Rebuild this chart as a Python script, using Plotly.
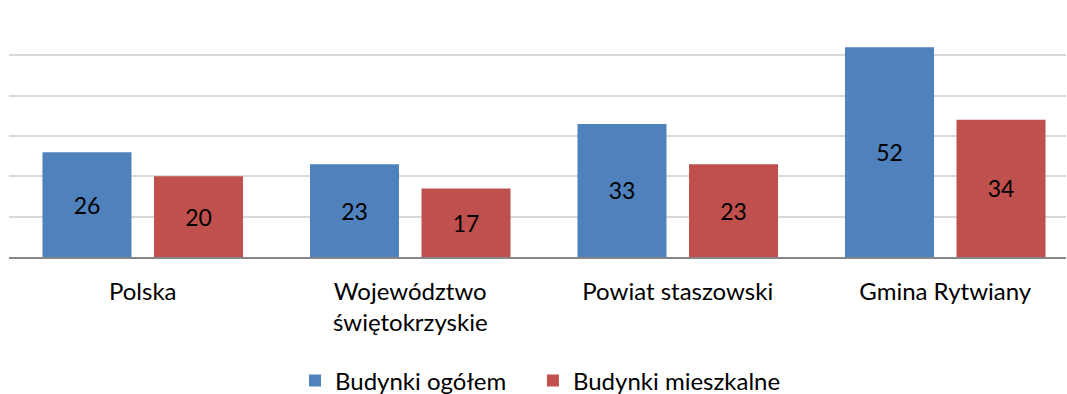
import plotly.graph_objects as go

categories = ["Polska", "Województwo<br>świętokrzyskie", "Powiat staszowski", "Gmina Rytwiany"]
budynki_ogolem = [26, 23, 33, 52]
budynki_mieszkalne = [20, 17, 23, 34]

FONT = "Lato, 'Open Sans', sans-serif"

fig = go.Figure()
fig.add_trace(go.Bar(
    x=categories, y=budynki_ogolem, name="Budynki ogółem",
    marker=dict(color="#4F81BD", line=dict(width=0)),
    text=budynki_ogolem, textposition="inside", insidetextanchor="middle",
    textfont=dict(color="black", size=23, family=FONT),
    legend="legend",
))
fig.add_trace(go.Bar(
    x=categories, y=budynki_mieszkalne, name="Budynki mieszkalne",
    marker=dict(color="#C0504D", line=dict(width=0)),
    text=budynki_mieszkalne, textposition="inside", insidetextanchor="middle",
    textfont=dict(color="black", size=23, family=FONT),
    legend="legend2",
))

legend_common = dict(orientation="h", y=-0.512, yanchor="middle", xanchor="left",
                     font=dict(size=24), itemwidth=30, bgcolor="rgba(0,0,0,0)")

fig.update_layout(
    width=1067, height=394,
    margin=dict(l=9, r=1, t=15, b=137, autoexpand=False),
    paper_bgcolor="white", plot_bgcolor="white",
    barmode="group", bargap=0.166, bargroupgap=0.202,
    font=dict(family=FONT, size=24, color="black"),
    showlegend=True,
    legend=dict(x=0.2706, **legend_common),
    legend2=dict(x=0.4957, **legend_common),
    uniformtext=dict(mode=False),
)
fig.update_xaxes(range=[-0.5, 3.4514], showgrid=False, showline=True, linecolor="#868686",
                 linewidth=1.5, ticks="", ticklabelstandoff=12, tickfont=dict(size=24),
                 automargin=False)
fig.update_yaxes(range=[0, 60], dtick=10, showgrid=True, gridcolor="#D9D9D9", gridwidth=1.5,
                 showticklabels=False, zeroline=False, ticks="", automargin=False)

fig.write_html("out.html")
